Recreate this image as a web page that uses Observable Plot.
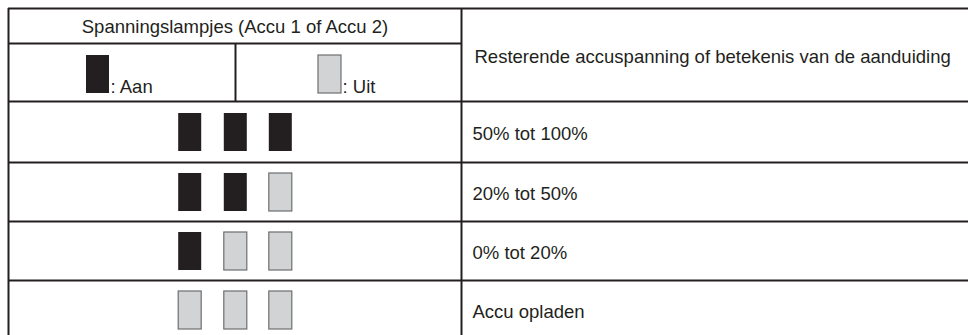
<!DOCTYPE html>
<html>
<head>
<meta charset="utf-8">
<script src="https://cdn.jsdelivr.net/npm/d3@7"></script>
<script src="https://cdn.jsdelivr.net/npm/@observablehq/plot@0.6"></script>
<style>
  html, body { margin: 0; padding: 0; background: #fff; }
</style>
</head>
<body>
<div id="chart"></div>
<script>
// ---- data ----
const lampHeader = "Spanningslampjes (Accu 1 of Accu 2)";
const meaningHeader = "Resterende accuspanning of betekenis van de aanduiding";
const legendLabels = [": Aan", ": Uit"];
const legendStates = [1, 0];
const rowLabels = ["50% tot 100%", "20% tot 50%", "0% tot 20%", "Accu opladen"];
const lampStates = [
  [1, 1, 1],
  [1, 1, 0],
  [1, 0, 0],
  [0, 0, 0]
];

// ---- layout (positions and styles) ----
const W = 968, H = 335;
const L = {
  left: 8, right: 980, top: 8, headSplit: 43, headBottom: 101,
  colSplit: 461, subSplit: 235,
  rowEdges: [101, 162, 221, 280, 339],
  lampCenters: [189.7, 235.3, 280.3], lampW: 23, lampH: 38,
  legendLampX: [86, 318], legendTextX: [110, 342], legendTop: 55, legendBase: 92,
  textX: 472, headTextX: 474, fontSize: 18.5
};
const INK = "#231f20", OFF = "#d1d3d4", OFFSTROKE = "#6d6e71";

const rowMid = i => (L.rowEdges[i] + L.rowEdges[i + 1]) / 2;

const lamps = lampStates.flatMap((states, r) =>
  states.map((on, s) => ({row: r, slot: s, on}))
);
const rows = rowLabels.map((label, r) => ({label, r}));
const legend = legendLabels.map((label, i) => ({label, on: legendStates[i], i}));

const hLines = [
  {y: L.top, x1: L.left, x2: L.right},
  {y: L.headSplit, x1: L.left, x2: L.colSplit},
  ...L.rowEdges.slice(0, 4).map(y => ({y, x1: L.left, x2: L.right}))
];
const vLines = [
  {x: L.left, y1: L.top, y2: H + 5},
  {x: L.colSplit, y1: L.top, y2: H + 5},
  {x: L.subSplit, y1: L.headSplit, y2: L.headBottom}
];

const chart = Plot.plot({
  width: W,
  height: H,
  margin: 0,
  x: {domain: [0, W], range: [0, W], axis: null},
  y: {domain: [0, H], range: [0, H], axis: null},
  style: {fontFamily: "'Liberation Sans', Arial, Helvetica, sans-serif", background: "#fff", overflow: "hidden"},
  marks: [
    // lamps in body rows
    Plot.rect(lamps, {
      x1: d => L.lampCenters[d.slot] - L.lampW / 2,
      x2: d => L.lampCenters[d.slot] + L.lampW / 2,
      y1: d => rowMid(d.row) - L.lampH / 2 + 0.5,
      y2: d => rowMid(d.row) + L.lampH / 2 + 0.5,
      fill: d => d.on ? INK : OFF,
      stroke: d => d.on ? INK : OFFSTROKE,
      strokeWidth: d => d.on ? 0 : 1.2,
      inset: 0
    }),
    // legend lamps
    Plot.rect(legend, {
      x1: d => L.legendLampX[d.i],
      x2: d => L.legendLampX[d.i] + L.lampW,
      y1: L.legendTop,
      y2: L.legendTop + L.lampH,
      fill: d => d.on ? INK : OFF,
      stroke: d => d.on ? INK : OFFSTROKE,
      strokeWidth: d => d.on ? 0 : 1.2,
      inset: 0
    }),
    // legend labels
    Plot.text(legend, {
      x: d => L.legendTextX[d.i],
      y: L.legendBase,
      text: "label",
      textAnchor: "start",
      lineAnchor: "bottom",
      fontSize: L.fontSize,
      fill: INK
    }),
    // header texts
    Plot.text([lampHeader], {
      x: (L.left + L.colSplit) / 2,
      y: (L.top + L.headSplit) / 2 + 1.5,
      text: d => d,
      textAnchor: "middle",
      lineAnchor: "middle",
      fontSize: L.fontSize,
      fill: INK
    }),
    Plot.text([meaningHeader], {
      x: L.headTextX,
      y: (L.top + L.headBottom) / 2 + 2,
      text: d => d,
      textAnchor: "start",
      lineAnchor: "middle",
      fontSize: L.fontSize,
      fill: INK
    }),
    // row labels
    Plot.text(rows, {
      x: L.textX,
      y: d => rowMid(d.r) + 2.5,
      text: "label",
      textAnchor: "start",
      lineAnchor: "middle",
      fontSize: L.fontSize,
      fill: INK
    }),
    // grid lines
    Plot.ruleY(hLines, {y: "y", x1: "x1", x2: "x2", stroke: INK, strokeWidth: 2}),
    Plot.ruleX(vLines, {x: "x", y1: "y1", y2: "y2", stroke: INK, strokeWidth: 2})
  ]
});
document.getElementById("chart").appendChild(chart);
</script>
</body>
</html>
